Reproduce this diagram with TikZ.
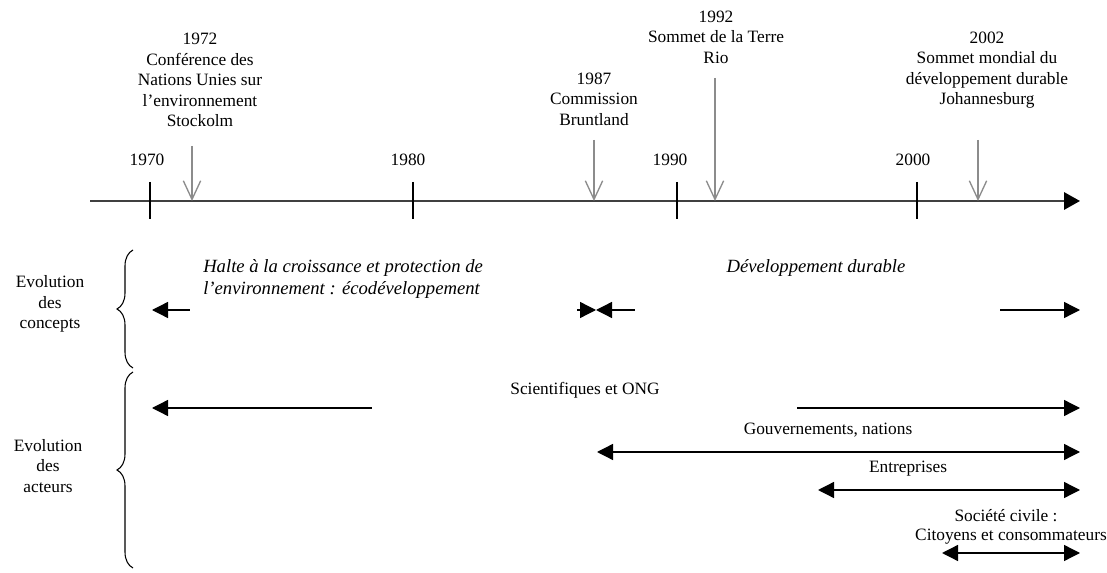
\documentclass[tikz,border=0pt]{standalone}
\usepackage{fontspec}
\setmainfont{Liberation Serif}
\usetikzlibrary{arrows.meta,decorations.pathreplacing}
\begin{document}
\begin{tikzpicture}[x=0.75pt,y=-0.75pt,
  txt/.style={font=\fontsize{13}{15.4}\selectfont, align=center, inner sep=0pt},
  itxt/.style={txt, font=\fontsize{14}{16}\selectfont\itshape},
  axisline/.style={line width=1.6pt, draw=black!75, -{Triangle[length=12pt,width=13pt,color=black]}},
  tickline/.style={line width=0.9pt},
  event/.style={line width=1.1pt, draw=black!45, -{Straight Barb[length=14pt,width=13pt,line width=1pt]}},
  span/.style={line width=1pt, {Triangle[length=12pt,width=12pt]}-{Triangle[length=12pt,width=12pt]}},
  toleft/.style={line width=1pt, {Triangle[length=12pt,width=12pt]}-},
  toright/.style={line width=1pt, -{Triangle[length=12pt,width=12pt]}},
  bracket/.style={line width=0.8pt, decorate, decoration={brace, amplitude=12pt}}
]
\useasboundingbox (0,0) rectangle (1107,573);

% time axis
\coordinate (axL) at (90,201);
\coordinate (axR) at (1080,201);
\draw[axisline] (axL) -- (axR);

% decade ticks and their years
\foreach \nm/\x/\yr/\lx in {a/150/1970/147, b/413/1980/408, c/677/1990/670, d/917/2000/913}{
  \coordinate (t\nm top) at (\x,182);
  \coordinate (t\nm bot) at (\x,219);
  \draw[tickline] (t\nm top) -- (t\nm bot);
  \node[txt] (y\nm) at (\lx,160) {\yr};
}

% events
\node[txt] (e72) at (200,80) {1972\\Conférence des\\Nations Unies sur\\l’environnement\\Stockolm};
\node[txt] (e87) at (594,99) {1987\\Commission\\Bruntland};
\node[txt] (e92) at (716,37) {1992\\Sommet de la Terre\\Rio};
\node[txt] (e02) at (987,70) {2002\\Sommet mondial du\\développement durable\\Johannesburg};

\coordinate (p72s) at (192,146); \coordinate (p72e) at (192,201);
\coordinate (p87s) at (594,140); \coordinate (p87e) at (594,201);
\coordinate (p92s) at (715,78);  \coordinate (p92e) at (715,201);
\coordinate (p02s) at (978,140); \coordinate (p02e) at (978,201);
\draw[event] (p72s) -- (p72e);
\draw[event] (p87s) -- (p87e);
\draw[event] (p92s) -- (p92e);
\draw[event] (p02s) -- (p02e);

% side labels and braces
\node[txt] (lc) at (50,304) {Evolution\\des\\concepts};
\node[txt] (la) at (48,466) {Evolution\\des\\acteurs};
\coordinate (b1a) at (133,368); \coordinate (b1b) at (133,250);
\coordinate (b2a) at (133,568); \coordinate (b2b) at (133,372);
\draw[bracket] (b1a) -- (b1b);
\draw[bracket] (b2a) -- (b2b);

% concepts
\node[itxt, align=left, anchor=west] (halte) at (203,279) {Halte à la croissance et protection de\\l’environnement : écodéveloppement};
\node[itxt] (dd) at (816,268) {Développement durable};
\coordinate (c1a) at (152,310); \coordinate (c1b) at (190,310);
\coordinate (c1c) at (577,310); \coordinate (c1d) at (596,310);
\coordinate (c2a) at (596,310); \coordinate (c2b) at (635,310);
\coordinate (c2c) at (1000,310); \coordinate (c2d) at (1080,310);
\draw[toleft] (c1a) -- (c1b);
\draw[toright] (c1c) -- (c1d);
\draw[toleft] (c2a) -- (c2b);
\draw[toright] (c2c) -- (c2d);

% actors
\node[txt] (sci) at (585,390) {Scientifiques et ONG};
\coordinate (s1a) at (152,408); \coordinate (s1b) at (372,408);
\coordinate (s2a) at (797,408); \coordinate (s2b) at (1080,408);
\draw[toleft] (s1a) -- (s1b);
\draw[toright] (s2a) -- (s2b);

\node[txt] (gov) at (828,430) {Gouvernements, nations};
\coordinate (g1) at (597,452); \coordinate (g2) at (1080,452);
\draw[span] (g1) -- (g2);

\node[txt] (ent) at (908,469) {Entreprises};
\coordinate (n1) at (818,490); \coordinate (n2) at (1080,490);
\draw[span] (n1) -- (n2);

\node[txt] (soc) at (1006,516) {Société civile :};
\node[txt] (cit) at (1011,537) {Citoyens et consommateurs};
\coordinate (v1) at (942,553); \coordinate (v2) at (1080,553);
\draw[span] (v1) -- (v2);
\end{tikzpicture}
\end{document}
